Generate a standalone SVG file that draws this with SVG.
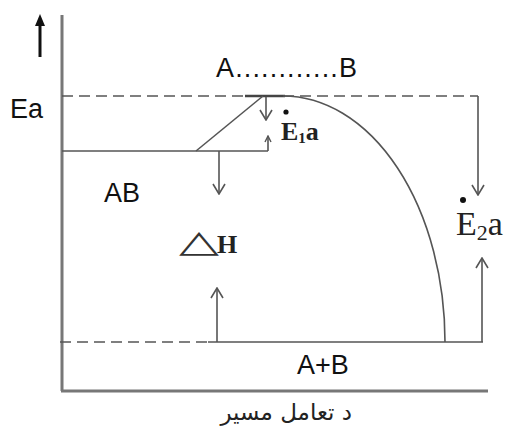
<svg xmlns="http://www.w3.org/2000/svg" width="509" height="429" viewBox="0 0 509 429">
<style>
.ln{stroke:#555;stroke-width:1.6;fill:none}
.dash{stroke:#555;stroke-width:1.6;fill:none;stroke-dasharray:11 6}
.ax{stroke:#777;stroke-width:3;fill:none}
.sans{font-family:"Liberation Sans",Arial,sans-serif;font-size:27px;fill:#111}
.serif{font-family:"Liberation Serif","Times New Roman",serif;fill:#222}
</style>
<defs>
<marker id="ah" viewBox="0 0 12 14" refX="11" refY="7" markerWidth="12" markerHeight="14" markerUnits="userSpaceOnUse" orient="auto">
<path d="M1,1 L11,7 L1,13" fill="none" stroke="#555" stroke-width="1.6"/>
</marker>
<marker id="ahs" viewBox="0 0 8 8" refX="7" refY="4" markerWidth="8" markerHeight="8" markerUnits="userSpaceOnUse" orient="auto">
<path d="M1,1 L7,4 L1,7" fill="none" stroke="#555" stroke-width="1.4"/>
</marker>
</defs>
<g id="axes">
<line class="ax" x1="62" y1="15" x2="62" y2="391"/>
<line class="ax" x1="61" y1="391" x2="488" y2="391"/>
<line x1="40" y1="57" x2="40" y2="24" stroke="#111" stroke-width="3"/>
<path d="M35,26 L40,14 L45,26 Z" fill="#111"/>
</g>
<g id="levels">
<line class="dash" x1="62" y1="96" x2="478" y2="96"/>
<line class="ln" x1="62" y1="151" x2="268" y2="151"/>
<line class="dash" x1="60" y1="342" x2="208" y2="342"/>
<line class="ln" x1="208" y1="342" x2="483" y2="342"/>
<line x1="245" y1="96" x2="285" y2="96" stroke="#444" stroke-width="2.5"/>
</g>
<g id="curve">
<line class="ln" x1="196" y1="151" x2="263" y2="96"/>
<path class="ln" d="M283,96 A162,246 0 0 1 445,342"/>
</g>
<g id="connectors">
<line class="ln" x1="478" y1="96" x2="478" y2="195" marker-end="url(#ah)"/>
<line class="ln" x1="482" y1="342" x2="482" y2="258" marker-end="url(#ah)"/>
<line class="ln" x1="217" y1="342" x2="217" y2="288" marker-end="url(#ah)"/>
<line class="ln" x1="219" y1="151" x2="219" y2="194" marker-end="url(#ah)"/>
<line class="ln" x1="266" y1="97" x2="266" y2="120" marker-end="url(#ah)"/>
<line class="ln" x1="268" y1="151" x2="268" y2="136" marker-end="url(#ahs)"/>
</g>
<g id="labels">
<text class="sans" x="10" y="118">Ea</text>
<text class="sans" x="104" y="202">AB</text>
<text class="sans" x="216" y="77" textLength="141" lengthAdjust="spacing">A............B</text>
<text class="sans" x="297" y="374">A+B</text>
<circle cx="286" cy="112" r="2.6" fill="#111"/>
<text class="serif" font-size="26" font-weight="bold" x="281" y="140">E<tspan font-size="15" dy="3">1</tspan><tspan dy="-3">a</tspan></text>
<circle cx="463" cy="200" r="3" fill="#111"/>
<text class="serif" font-size="34" x="456" y="235">E<tspan font-size="22" dy="5">2</tspan><tspan dy="-5">a</tspan></text>
<text transform="translate(179,252) scale(1.68,1)" x="0" y="0" font-family="DejaVu Sans,sans-serif" font-size="31" fill="#333">△</text>
<text class="serif" x="217" y="253" font-size="26" font-weight="bold">H</text>
<text x="352" y="420" text-anchor="start" font-family="DejaVu Sans,sans-serif" font-size="23" fill="#222" direction="rtl">د تعامل مسیر</text>
</g>
</svg>
